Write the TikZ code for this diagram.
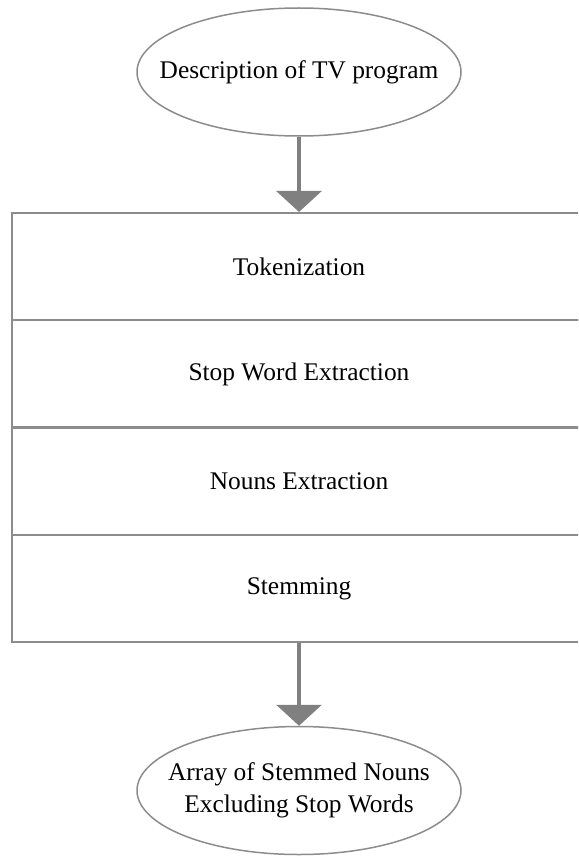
\documentclass[tikz,border=0pt]{standalone}
\usepackage{fontspec}
\setmainfont{Liberation Serif}
\usetikzlibrary{shapes.geometric,arrows.meta}
\definecolor{edgegray}{RGB}{140,140,140}
\definecolor{tipgray}{RGB}{128,128,128}
% zero-width box so the ellipse keeps its set size around the label
\newcommand{\ovallabel}[1]{\makebox[0pt]{\begin{tabular}{@{}c@{}}#1\end{tabular}}}
\begin{document}
\begin{tikzpicture}[x=1pt,y=-1pt,
  terminal/.style={ellipse,draw=edgegray,line width=1.5pt,minimum width=324pt,
    minimum height=128pt,inner sep=0pt,
    font=\fontsize{25.4}{32}\selectfont},
  stage/.style={rectangle,draw=edgegray,line width=2pt,minimum width=574pt,
    minimum height=107.25pt,inner sep=0pt,font=\fontsize{25.4}{30}\selectfont},
  flow/.style={draw=tipgray,line width=3.3pt,
    -{Triangle[width=45pt,length=21pt]}}]
\useasboundingbox (0,0) rectangle (578,856);
\clip (0,0) rectangle (578,856);

% input
\node[terminal] (src) at (299,72) {\ovallabel{Description of TV program}};

% processing stages, stacked into one column
\node[stage] (tok)  at (299,266.6) {Tokenization};
\node[stage] (stop) at (299,373.9) {Stop Word Extraction};
\node[stage] (noun) at (299,481.1) {Nouns Extraction};
\node[stage] (stem) at (299,588.4) {Stemming};

% output
\node[terminal] (dst) at (299,790.5) {\ovallabel{Array of Stemmed Nouns\\Excluding Stop Words}};

\draw[flow] (src.south) -- (tok.north);
\draw[flow] (stem.south) -- (dst.north);
\end{tikzpicture}
\end{document}
